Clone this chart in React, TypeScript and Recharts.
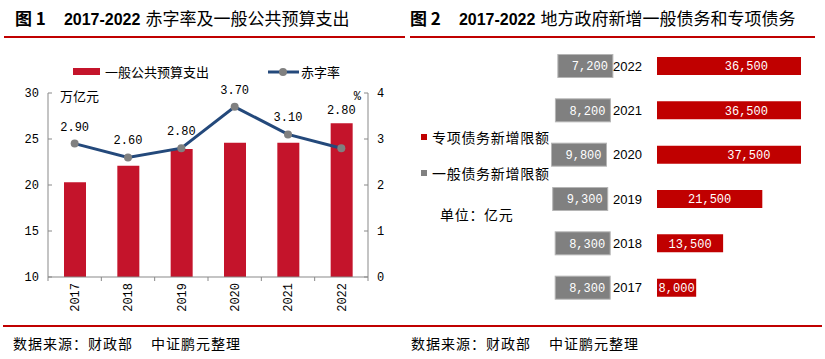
import * as Recharts from 'recharts'
import { ComposedChart, BarChart, Bar, Line, XAxis, YAxis, LabelList, Legend } from 'recharts'

// 图1 data
const years = ['2017', '2018', '2019', '2020', '2021', '2022']
const spending = [20.3, 22.1, 23.9, 24.6, 24.6, 26.7] // 万亿元
const deficitRate = [2.9, 2.6, 2.8, 3.7, 3.1, 2.8] // %
const spendingTicks = [10, 15, 20, 25, 30]
const rateTicks = [0, 1, 2, 3, 4]
const spendingDomain = [10, 30]

// 图2 data (亿元)
const specialDebt = [8000, 13500, 21500, 37500, 36500, 36500]
const generalDebt = [8300, 8300, 9300, 9800, 8200, 7200]
const debtAxisMax = 29400

const CJK = '"Noto Sans CJK SC", "Noto Sans", sans-serif'
const MONO = '"Liberation Mono", "DejaVu Sans Mono", monospace'
const LATIN = '"Liberation Sans", Arial, sans-serif'
const RED = '#C4142B'
const DEEP_RED = '#C00000'
const BLUE = '#24497B'
const GRAY = '#808080'
const AXIS = '#898989'

const leftData = years.map((year, i) => ({ year, spending: spending[i], rate: deficitRate[i] }))
const debtData = years.map((year, i) => ({ year, special: specialDebt[i], general: generalDebt[i] }))

const fmt = (v: number) => v.toLocaleString('en-US')

// plot area hook, if this recharts build has it
const usePlot: () => any = (Recharts as any).usePlotArea ?? (() => undefined)

const YearTick = (props: any) => {
  const { x, y, payload, index, visibleTicksCount } = props
  const half = payload.offset ?? 0
  return (
    <g>
      <line x1={x - half} y1={y - 6} x2={x - half} y2={y - 2} stroke={AXIS} />
      {index === visibleTicksCount - 1 && (
        <line x1={x + half} y1={y - 6} x2={x + half} y2={y - 2} stroke={AXIS} />
      )}
      <text
        x={x}
        y={y}
        transform={`rotate(-90 ${x} ${y})`}
        textAnchor="end"
        dy="0.35em"
        fontFamily={MONO}
        fontSize={12}
        fill="#000"
      >
        {payload.value}
      </text>
    </g>
  )
}

// rate label sits above the point, or just above the bar when the bar is higher
const RateLabel = (props: any) => {
  const { x, y, value, index } = props
  const plot = usePlot()
  let base = y - 13
  if (plot && index != null) {
    const [lo, hi] = spendingDomain
    const barTop = plot.y + ((hi - spending[index]) / (hi - lo)) * plot.height
    if (barTop < y) base = barTop - 9
  }
  return (
    <text x={x} y={base} textAnchor="middle" fontFamily={MONO} fontSize={12} fill="#000">
      {Number(value).toFixed(2)}
    </text>
  )
}

const LeftLegend = () => (
  <div style={{ display: 'flex', alignItems: 'center', fontFamily: CJK, fontSize: 13, lineHeight: '19px', color: '#000', whiteSpace: 'nowrap' }}>
    <span style={{ display: 'inline-block', width: 27, height: 7, background: RED, marginRight: 5 }} />
    <span>一般公共预算支出</span>
    <svg width={31} height={12} style={{ marginLeft: 59, marginRight: 2 }}>
      <line x1={0} y1={6} x2={31} y2={6} stroke={BLUE} strokeWidth={3} />
      <circle cx={15} cy={6} r={4} fill={GRAY} />
    </svg>
    <span>赤字率</span>
  </div>
)

const GrayBox = (props: any) => {
  const { x, y, width, height, value } = props
  const cx = x + width / 2
  const cy = y + height / 2
  return (
    <g>
      <rect x={cx - 27.5} y={cy - 11.5} width={55} height={23} fill={GRAY} stroke="#B5B5B5" strokeWidth={1} />
      <text x={cx + 22.5} y={cy} dy="0.35em" textAnchor="end" fill="#fff" fontFamily={MONO} fontSize={12}>
        {fmt(value)}
      </text>
    </g>
  )
}

function LeftChart() {
  return (
    <ComposedChart width={410} height={320} data={leftData} margin={{ top: 93, right: 0, bottom: 3, left: 0 }}>
      <XAxis
        dataKey="year"
        height={40}
        interval={0}
        tickLine={false}
        tickSize={0}
        tickMargin={6}
        stroke={AXIS}
        tick={<YearTick />}
      />
      <YAxis
        yAxisId="left"
        width={48}
        domain={spendingDomain}
        ticks={spendingTicks}
        allowDataOverflow
        tickSize={-4}
        tickMargin={13}
        stroke={AXIS}
        tick={{ fill: '#000', fontFamily: MONO, fontSize: 12 }}
        label={({ viewBox }: any) => (
          <text x={viewBox.x + viewBox.width + 12} y={viewBox.y + 3} dy="0.35em" fontFamily={CJK} fontSize={13} fill="#000">
            万亿元
          </text>
        )}
      />
      <YAxis
        yAxisId="right"
        orientation="right"
        width={42}
        domain={[0, 4]}
        ticks={rateTicks}
        tickSize={-4}
        tickMargin={13}
        stroke={AXIS}
        tick={{ fill: '#000', fontFamily: MONO, fontSize: 12 }}
        label={({ viewBox }: any) => (
          <text x={viewBox.x - 7} y={viewBox.y + 3} dy="0.35em" textAnchor="end" fontFamily={MONO} fontSize={12} fill="#000">
            %
          </text>
        )}
      />
      <Bar yAxisId="left" dataKey="spending" fill={RED} barSize={22} isAnimationActive={false} />
      <Line
        yAxisId="right"
        dataKey="rate"
        stroke={BLUE}
        strokeWidth={3}
        dot={{ r: 4, fill: GRAY, stroke: 'none' }}
        activeDot={false}
        isAnimationActive={false}
      >
        <LabelList dataKey="rate" content={<RateLabel />} />
      </Line>
      <Legend
        content={<LeftLegend />}
        verticalAlign="middle"
        align="center"
        wrapperStyle={{ top: 62, left: 73, width: 300, height: 19 }}
      />
    </ComposedChart>
  )
}

function GeneralDebtChart() {
  return (
    <BarChart layout="vertical" width={166} height={320} data={debtData} margin={{ top: 44, right: 22, bottom: 10, left: 0 }}>
      <XAxis type="number" hide reversed domain={[0, debtAxisMax]} allowDataOverflow />
      <YAxis type="category" dataKey="year" hide reversed />
      <Bar dataKey="general" fill={GRAY} barSize={18} isAnimationActive={false}>
        <LabelList dataKey="general" content={<GrayBox />} />
      </Bar>
    </BarChart>
  )
}

function SpecialDebtChart() {
  return (
    <BarChart layout="vertical" width={265} height={320} data={debtData} margin={{ top: 44, right: 24, bottom: 10, left: 0 }}>
      <XAxis type="number" hide domain={[0, debtAxisMax]} allowDataOverflow />
      <YAxis
        type="category"
        dataKey="year"
        reversed
        width={97}
        axisLine={false}
        tickLine={false}
        tickMargin={9}
        tick={{ fill: '#000', fontFamily: LATIN, fontSize: 13 }}
      />
      <Bar dataKey="special" fill={DEEP_RED} barSize={18} isAnimationActive={false}>
        <LabelList
          dataKey="special"
          position="center"
          formatter={(v: any) => fmt(Number(v))}
          style={{ fill: '#fff', fontFamily: MONO, fontSize: 12 }}
        />
      </Bar>
    </BarChart>
  )
}

const Title = ({ no, text, left }: { no: string; text: string; left: number }) => (
  <div style={{ position: 'absolute', left, top: 8, whiteSpace: 'nowrap', lineHeight: '20px', color: '#000' }}>
    <span style={{ fontFamily: CJK, fontSize: 17, fontWeight: 700 }}>图 {no}</span>
    <span style={{ fontFamily: LATIN, fontSize: 16, fontWeight: 700, marginLeft: 18 }}>2017-2022</span>
    <span style={{ fontFamily: CJK, fontSize: 17, marginLeft: 5 }}>{text}</span>
  </div>
)

const Source = ({ left }: { left: number }) => (
  <div style={{ position: 'absolute', left, top: 333, fontFamily: CJK, fontSize: 14, letterSpacing: 1, lineHeight: '20px', whiteSpace: 'nowrap', color: '#000' }}>
    数据来源：财政部<span style={{ marginLeft: 18 }}>中证鹏元整理</span>
  </div>
)

const Rule = ({ left, width, top }: { left: number; width: number; top: number }) => (
  <div style={{ position: 'absolute', left, top, width, height: 2, background: DEEP_RED }} />
)

export default function App() {
  return (
    <div style={{ position: 'absolute', left: 0, top: 0, width: 825, height: 359, background: '#fff', overflow: 'hidden' }}>
      <Title no="1" text="赤字率及一般公共预算支出" left={15} />
      <Title no="2" text="地方政府新增一般债务和专项债务" left={410} />
      <Rule left={4} width={401} top={36} />
      <Rule left={410} width={405} top={36} />

      <div style={{ position: 'absolute', left: 0, top: 0 }}>
        <LeftChart />
      </div>
      <div style={{ position: 'absolute', left: 459, top: 0 }}>
        <GeneralDebtChart />
      </div>
      <div style={{ position: 'absolute', left: 560, top: 0 }}>
        <SpecialDebtChart />
      </div>

      <div style={{ position: 'absolute', left: 421, top: 127, fontFamily: CJK, fontSize: 14, letterSpacing: 0.7, lineHeight: '20px', color: '#000', whiteSpace: 'nowrap' }}>
        <div style={{ display: 'flex', alignItems: 'center' }}>
          <span style={{ display: 'inline-block', width: 6, height: 6, background: DEEP_RED, marginRight: 5 }} />
          专项债务新增限额
        </div>
        <div style={{ display: 'flex', alignItems: 'center', marginTop: 16 }}>
          <span style={{ display: 'inline-block', width: 6, height: 6, background: GRAY, marginRight: 5 }} />
          一般债务新增限额
        </div>
        <div style={{ marginTop: 21, marginLeft: 19 }}>单位：亿元</div>
      </div>

      <Rule left={3} width={819} top={325} />
      <Source left={13} />
      <Source left={411} />
    </div>
  )
}
